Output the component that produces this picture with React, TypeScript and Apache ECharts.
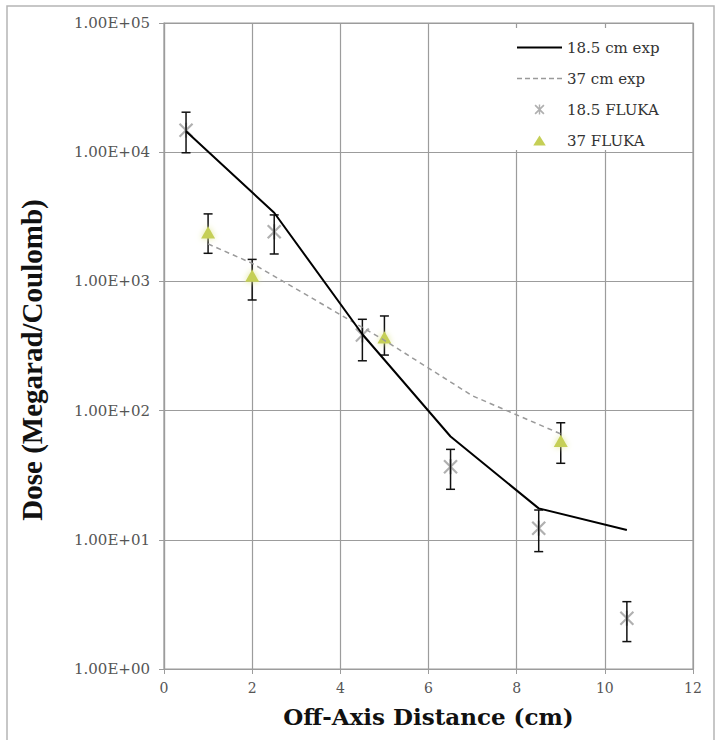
import React, { useEffect, useRef } from 'react';
import * as echarts from 'echarts';

// ---- data ----
const xTicks = [0, 2, 4, 6, 8, 10, 12];
const yTicks = [1, 10, 100, 1000, 10000, 100000];

const exp185X = [0.5, 2.5, 4.5, 6.5, 8.5, 10.5];
const exp185Y = [14500, 3400, 390, 63, 17.5, 11.9];

const exp37X = [1, 2, 5, 7, 9];
const exp37Y = [1950, 1380, 350, 130, 66];

const fluka185X = [0.5, 2.5, 4.5, 6.5, 8.5, 10.5];
const fluka185Y = [14800, 2420, 385, 36.8, 12.3, 2.47];
const fluka185Lo = [9900, 1630, 243, 24.6, 8.1, 1.63];
const fluka185Hi = [20400, 3270, 509, 50.1, 17.0, 3.32];

const fluka37X = [1, 2, 5, 9];
const fluka37Y = [2360, 1090, 363, 57.5];
const fluka37Lo = [1650, 718, 269, 39.1];
const fluka37Hi = [3330, 1480, 540, 80.5];

const STAR_COLOR = '#b0b0b0';
const TRI_COLOR = '#c5cf56';
const GRID_COLOR = '#9c9c9c';
const SERIF = "'DejaVu Serif', 'Liberation Serif', serif";

const starIcon =
  'path://M0,1.2 L1.2,0 L10,8.8 L8.8,10 Z M8.8,0 L10,1.2 L1.2,10 L0,8.8 Z M4.3,0 L5.7,0 L5.7,10 L4.3,10 Z';
const triIcon = 'path://M5,0 L10,8 L0,8 Z';
const solidIcon = 'path://M0,0 L45,0 L45,2 L0,2 Z';
const dashedIcon =
  'path://M0,0 h5 v1.4 h-5 Z M8,0 h5 v1.4 h-5 Z M16,0 h5 v1.4 h-5 Z M24,0 h5 v1.4 h-5 Z M32,0 h5 v1.4 h-5 Z M40,0 h5 v1.4 h-5 Z';

function fmtSci(v: number): string {
  const s = v.toExponential(2).toUpperCase(); // e.g. 1.00E+5
  const m = s.match(/^(.*)E([+-])(\d+)$/);
  if (!m) return s;
  return m[1] + 'E' + m[2] + m[3].padStart(2, '0');
}

function makeRender(kind: 'star' | 'tri') {
  return (params: any, api: any) => {
    const x = api.value(0);
    const y = api.value(1);
    const lo = api.value(2);
    const hi = api.value(3);
    const p = api.coord([x, y]);
    const pl = api.coord([x, lo]);
    const ph = api.coord([x, hi]);
    const cap = 4.5;
    const barStyle = { stroke: '#111', lineWidth: 1.5 };
    const bars = [
      { type: 'line', shape: { x1: p[0], y1: ph[1], x2: p[0], y2: pl[1] }, style: barStyle },
      { type: 'line', shape: { x1: p[0] - cap, y1: ph[1], x2: p[0] + cap, y2: ph[1] }, style: barStyle },
      { type: 'line', shape: { x1: p[0] - cap, y1: pl[1], x2: p[0] + cap, y2: pl[1] }, style: barStyle },
    ];
    let marker: any[];
    if (kind === 'star') {
      const s = 6.5;
      const st = { stroke: STAR_COLOR, lineWidth: 2.2 };
      marker = [
        { type: 'line', shape: { x1: p[0] - s, y1: p[1] - s, x2: p[0] + s, y2: p[1] + s }, style: st },
        { type: 'line', shape: { x1: p[0] - s, y1: p[1] + s, x2: p[0] + s, y2: p[1] - s }, style: st },
        { type: 'line', shape: { x1: p[0], y1: p[1] - s - 1, x2: p[0], y2: p[1] + s + 1 }, style: st },
      ];
      return { type: 'group', children: [...marker, ...bars] };
    }
    const s = 7;
    marker = [
      {
        type: 'polygon',
        shape: {
          points: [
            [p[0], p[1] - s],
            [p[0] + s, p[1] + s * 0.75],
            [p[0] - s, p[1] + s * 0.75],
          ],
        },
        style: { fill: TRI_COLOR, shadowBlur: 6, shadowColor: '#e2e89a' },
      },
    ];
    return { type: 'group', children: [...bars, ...marker] };
  };
}

export default function App() {
  const ref = useRef<HTMLDivElement>(null);

  useEffect(() => {
    if (!ref.current) return;
    const chart = echarts.init(ref.current, undefined, { renderer: 'svg' });

    const legendText = { fontFamily: SERIF, fontSize: 15, color: '#333' };

    const option: any = {
      animation: false,
      backgroundColor: '#ffffff',
      grid: {
        left: 164,
        top: 23,
        right: 26,
        bottom: 71,
        show: true,
        borderColor: GRID_COLOR,
        borderWidth: 1.2,
      },
      xAxis: {
        type: 'value',
        min: xTicks[0],
        max: xTicks[xTicks.length - 1],
        interval: 2,
        name: 'Off-Axis Distance (cm)',
        nameLocation: 'middle',
        nameGap: 36,
        nameTextStyle: {
          fontFamily: SERIF,
          fontWeight: 'bold',
          fontSize: 23,
          color: '#111',
        },
        axisLine: { show: true, lineStyle: { color: GRID_COLOR, width: 1.2 } },
        axisTick: { show: true, inside: false, length: 5, lineStyle: { color: GRID_COLOR } },
        axisLabel: {
          margin: 12,
          fontFamily: SERIF,
          fontSize: 14,
          color: '#555',
        },
        splitLine: { show: true, lineStyle: { color: GRID_COLOR, width: 1.2 } },
      },
      yAxis: {
        type: 'log',
        logBase: 10,
        min: yTicks[0],
        max: yTicks[yTicks.length - 1],
        name: 'Dose (Megarad/Coulomb)',
        nameLocation: 'middle',
        nameGap: 118,
        nameRotate: 90,
        nameTextStyle: {
          fontFamily: "'Liberation Serif', serif",
          fontWeight: 'bold',
          fontSize: 29,
          color: '#111',
          padding: [0, 28, 0, 0],
        },
        axisLine: { show: true, lineStyle: { color: GRID_COLOR, width: 1.2 } },
        axisTick: { show: true, inside: false, length: 5, lineStyle: { color: GRID_COLOR } },
        axisLabel: {
          margin: 14,
          fontFamily: SERIF,
          fontSize: 15,
          color: '#555',
          formatter: (v: number) => fmtSci(v),
        },
        splitLine: { show: true, lineStyle: { color: GRID_COLOR, width: 1.2 } },
        minorTick: { show: false },
      },
      legend: {
        orient: 'vertical',
        left: 507,
        top: 28,
        itemWidth: 45,
        itemHeight: 10,
        itemGap: 16,
        backgroundColor: '#ffffff',
        padding: [12, 6, 2, 10],
        textStyle: legendText,
        data: [
          { name: '18.5 cm exp', icon: solidIcon, itemStyle: { color: '#000' }, textStyle: legendText },
          { name: '37 cm exp', icon: dashedIcon, itemStyle: { color: '#9a9a9a' }, textStyle: legendText },
          { name: '18.5 FLUKA', icon: starIcon, itemStyle: { color: STAR_COLOR }, textStyle: legendText },
          { name: '37 FLUKA', icon: triIcon, itemStyle: { color: TRI_COLOR }, textStyle: legendText },
        ],
      },
      graphic: [
        {
          type: 'rect',
          shape: { x: 7, y: 6, width: 707, height: 760 },
          style: { fill: 'none', stroke: '#b5b5b5', lineWidth: 1.5 },
          silent: true,
          z: -10,
        },
      ],
      series: [
        {
          name: '18.5 cm exp',
          type: 'line',
          symbol: 'none',
          color: '#000',
          lineStyle: { color: '#000', width: 2 },
          data: exp185X.map((x, i) => [x, exp185Y[i]]),
          z: 4,
        },
        {
          name: '37 cm exp',
          type: 'line',
          symbol: 'none',
          color: '#9a9a9a',
          lineStyle: { color: '#9a9a9a', width: 1.5, type: [5, 4] },
          data: exp37X.map((x, i) => [x, exp37Y[i]]),
          z: 3,
        },
        {
          name: '18.5 FLUKA',
          type: 'custom',
          renderItem: makeRender('star'),
          itemStyle: { color: STAR_COLOR },
          encode: { x: 0, y: 1 },
          data: fluka185X.map((x, i) => [x, fluka185Y[i], fluka185Lo[i], fluka185Hi[i]]),
          z: 2,
        },
        {
          name: '37 FLUKA',
          type: 'custom',
          renderItem: makeRender('tri'),
          itemStyle: { color: TRI_COLOR },
          encode: { x: 0, y: 1 },
          data: fluka37X.map((x, i) => [x, fluka37Y[i], fluka37Lo[i], fluka37Hi[i]]),
          z: 2,
        },
      ],
    };

    chart.setOption(option);
    return () => {
      chart.dispose();
    };
  }, []);

  return (
    <div
      ref={ref}
      style={{ position: 'absolute', left: 0, top: 0, width: 719, height: 740 }}
    />
  );
}
